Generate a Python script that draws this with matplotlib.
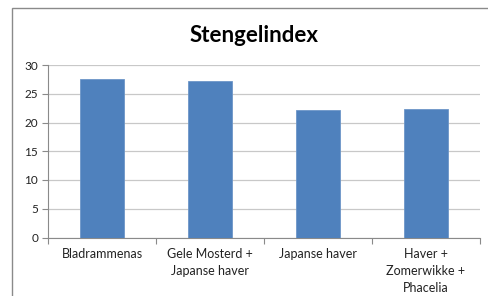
import matplotlib
matplotlib.use("Agg")
import matplotlib.pyplot as plt
from matplotlib.patches import Rectangle
import numpy as np

categories = ["Bladrammenas", "Gele Mosterd +\nJapanse haver", "Japanse haver", "Haver +\nZomerwikke +\nPhacelia"]
values = [27.6, 27.3, 22.2, 22.3]
yticks = [0, 5, 10, 15, 20, 25, 30]
title = "Stengelindex"

W, H = 488, 296
fig = plt.figure(figsize=(W/100, H/100), dpi=100)
plt.rcParams['font.family'] = ['Lato', 'DejaVu Sans']

# outer chart frame
fig.patches.append(Rectangle((12/W, -0.1), 1.2, 1 - 8/H + 0.1, transform=fig.transFigure,
                             fill=False, edgecolor="#8a8a8a", linewidth=1.0))

ax = fig.add_axes([48/W, 1 - 237.5/H, (480-48)/W, (237.5-65)/H])
x = np.arange(len(categories))
ax.bar(x, values, width=0.4, color="#4f81bd", edgecolor="#6d96c8", linewidth=0.6, zorder=3)
ax.set_xlim(-0.5, len(categories) - 0.5)
ax.set_ylim(0, 30)
ax.set_yticks(yticks)
ax.set_yticklabels([str(t) for t in yticks], fontsize=8.5, color="#222222")
ax.yaxis.grid(True, color="#c8c8c8", linewidth=0.9, zorder=0)
ax.set_axisbelow(True)
for s in ["top", "right"]:
    ax.spines[s].set_visible(False)
ax.spines["left"].set_color("#8a8a8a")
ax.spines["bottom"].set_color("#8a8a8a")
ax.tick_params(axis="y", length=4, color="#8a8a8a", pad=3)
ax.set_xticks(np.arange(-0.5, len(categories)), minor=False)
ax.set_xticklabels([""] * (len(categories) + 1))
ax.tick_params(axis="x", length=4, color="#8a8a8a")
for i, c in enumerate(categories):
    ax.text(i, -1.8, c, ha="center", va="top", fontsize=9, color="#222222",
            linespacing=1.5, transform=ax.transData)
fig.text(254/W, 1 - 36/H, title, ha="center", va="center", fontsize=16, fontweight="bold", color="#000000")
fig.savefig("out.png", dpi=100)
